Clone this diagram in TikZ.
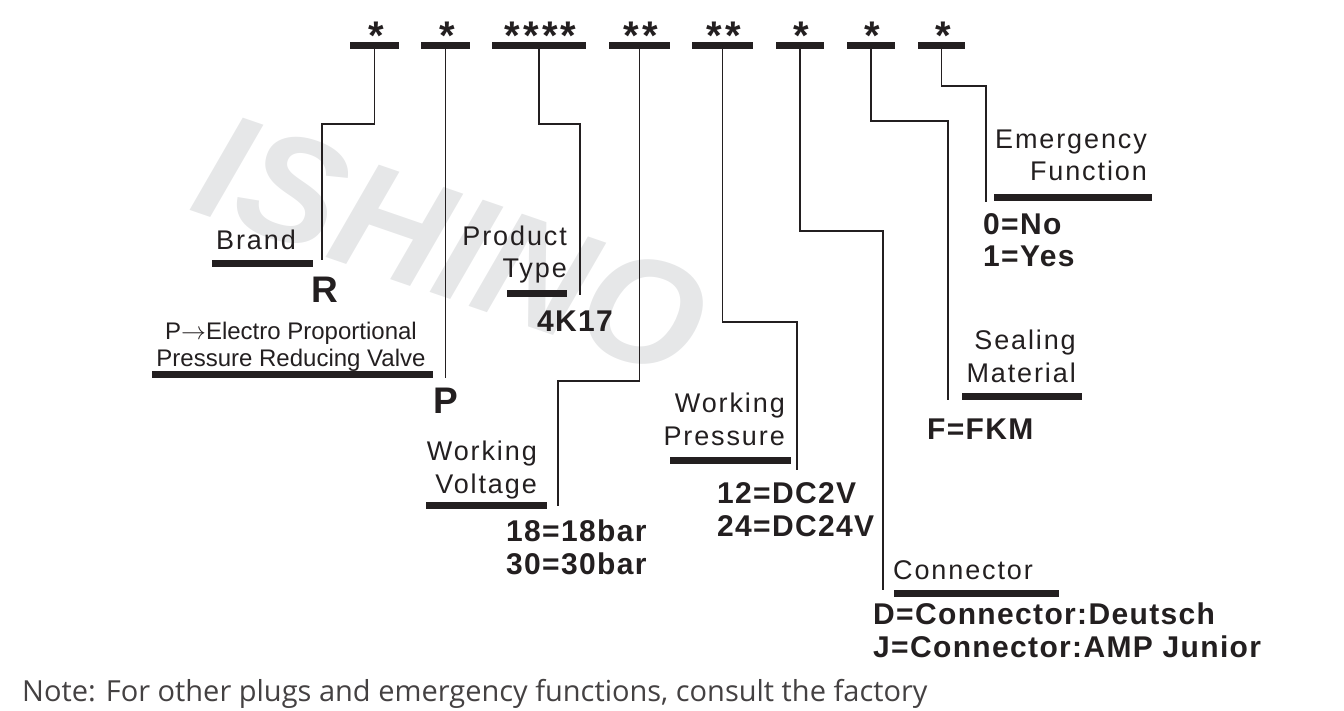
\documentclass[tikz,border=0pt]{standalone}
\usepackage{fontspec}
\setmainfont{Liberation Sans}
\newfontfamily\lblfont[LetterSpace=7]{Liberation Sans}
\newfontfamily\valfont[LetterSpace=4.5]{Liberation Sans}
\newfontfamily\starfont[LetterSpace=8]{Liberation Sans}
\newfontfamily\notefont{Open Sans}
\usetikzlibrary{positioning}
\definecolor{ink}{HTML}{231F20}
\definecolor{wmgray}{HTML}{E6E7E8}
\tikzset{
  code/.style  ={font=\starfont\bfseries\fontsize{40}{40}\selectfont,inner sep=0pt,text=ink},
  cbar/.style  ={fill=ink,inner sep=0pt,minimum height=7pt},
  lbl/.style   ={font=\lblfont\fontsize{27}{32.5}\selectfont,inner sep=0pt,text=ink},
  lblsm/.style ={font=\fontsize{24}{26}\selectfont,inner sep=0pt,text=ink,align=center},
  val/.style   ={font=\valfont\bfseries\fontsize{30}{32.5}\selectfont,inner sep=0pt,
                 text=ink,align=left},
  big/.style   ={font=\bfseries\fontsize{37}{37}\selectfont,inner sep=0pt,text=ink},
  wire/.style  ={draw=ink,line width=1.6pt},
  note/.style  ={font=\notefont\fontsize{29}{32}\selectfont,inner sep=0pt,text=ink!85},
}

\begin{document}
\begin{tikzpicture}[x=1pt,y=-1pt]
\useasboundingbox (0,0) rectangle (1344,711);
% watermark
\node[rotate=-19,text=wmgray,inner sep=0pt,
      font=\bfseries\itshape\fontsize{152}{152}\selectfont] (wm) at (452,245) {ISHINO};

% code positions
\node[cbar,minimum width=49pt] (b1) at (374.5,45.5) {};
\node[cbar,minimum width=49pt] (b2) at (445.5,45.5) {};
\node[cbar,minimum width=94pt] (b3) at (539,45.5) {};
\node[cbar,minimum width=61pt] (b4) at (639.5,45.5) {};
\node[cbar,minimum width=61pt] (b5) at (722.5,45.5) {};
\node[cbar,minimum width=48pt] (b6) at (800,45.5) {};
\node[cbar,minimum width=48pt] (b7) at (871,45.5) {};
\node[cbar,minimum width=47pt] (b8) at (941.5,45.5) {};
\node[code,anchor=base] (s1) at (376,50) {*};
\node[code,anchor=base] (s2) at (447,50) {*};
\node[code,anchor=base] (s3) at (540.5,50) {****};
\node[code,anchor=base] (s4) at (641,50) {**};
\node[code,anchor=base] (s5) at (724,50) {**};
\node[code,anchor=base] (s6) at (801.5,50) {*};
\node[code,anchor=base] (s7) at (872.5,50) {*};
\node[code,anchor=base] (s8) at (943,50) {*};

% brand
\node[lbl,anchor=base] (lbrand) at (256,250) {Brand};
\node[cbar,minimum width=101pt] (brandbar) at (262.5,263.5) {};
\node[big,anchor=base] (vbrand) at (324.5,303) {R};
% valve
\node[lblsm,anchor=base] (lvalve) at (291,366) {P$\rightarrow$Electro Proportional\\Pressure Reducing Valve};
\node[cbar,minimum width=281pt] (valvebar) at (292.5,374) {};
\node[big,anchor=base] (vvalve) at (445.5,413) {P};
% product type
\node[lbl,align=right,anchor=base east] (ltype) at (567,278) {Product\\Type};
\node[cbar,minimum width=60pt] (typebar) at (537,294) {};
\node[val,anchor=base west] (vtype) at (537,331) {4K17};
% working voltage
\node[lbl,align=right,anchor=base east] (lvolt) at (537,493) {Working\\Voltage};
\node[cbar,minimum width=121pt] (voltbar) at (486.5,505) {};
\node[val,anchor=base west] (vvolt) at (506,574) {18=18bar\\30=30bar};
% working pressure
\node[lbl,align=right,anchor=base east] (lpress) at (785,445) {Working\\Pressure};
\node[cbar,minimum width=121pt] (pressbar) at (730.5,460) {};
\node[val,anchor=base west] (vpress) at (717,536) {12=DC2V\\24=DC24V};
% connector
\node[lbl,anchor=base west] (lconn) at (893,579) {Connector};
\node[cbar,minimum width=165pt] (connbar) at (976.5,593.5) {};
\node[val,anchor=base west] (vconn) at (873,657) {D=Connector:Deutsch\\J=Connector:AMP Junior};
% sealing
\node[lbl,align=right,anchor=base east] (lseal) at (1076,382) {Sealing\\Material};
\node[cbar,minimum width=120pt] (sealbar) at (1022,396.5) {};
\node[val,anchor=base west] (vseal) at (927,439) {F=FKM};
% emergency
\node[lbl,align=right,anchor=base east] (lemerg) at (1147,181) {Emergency\\Function};
\node[cbar,minimum width=158pt] (emergbar) at (1073,197.5) {};
\node[val,anchor=base west] (vemerg) at (983,267) {0=No\\1=Yes};

% connectors
\coordinate (e1) at (322,260);
\coordinate (e2) at (b2.south |- valvebar.south);
\coordinate (e3) at (580,295);
\coordinate (e4) at (558,506);
\coordinate (e5) at (797,470);
\coordinate (e6) at (883,590);
\coordinate (e7) at (948,400);
\coordinate (e8) at (986,202);
\draw[wire] (b1.south) -- ++(0,75) -| (e1);
\draw[wire] (b2.south) -- (e2);
\draw[wire] (b3.south) -- ++(0,75) -| (e3);
\draw[wire] (b4.south) -- ++(0,332) -| (e4);
\draw[wire] (b5.south) -- ++(0,273) -| (e5);
\draw[wire] (b6.south) -- ++(0,182) -| (e6);
\draw[wire] (b7.south) -- ++(0,72) -| (e7);
\draw[wire] (b8.south) -- ++(0,37) -| (e8);

\node[note,anchor=base west] (lnote) at (22,701) {Note: For other plugs and emergency functions, consult the factory};
\end{tikzpicture}
\end{document}
